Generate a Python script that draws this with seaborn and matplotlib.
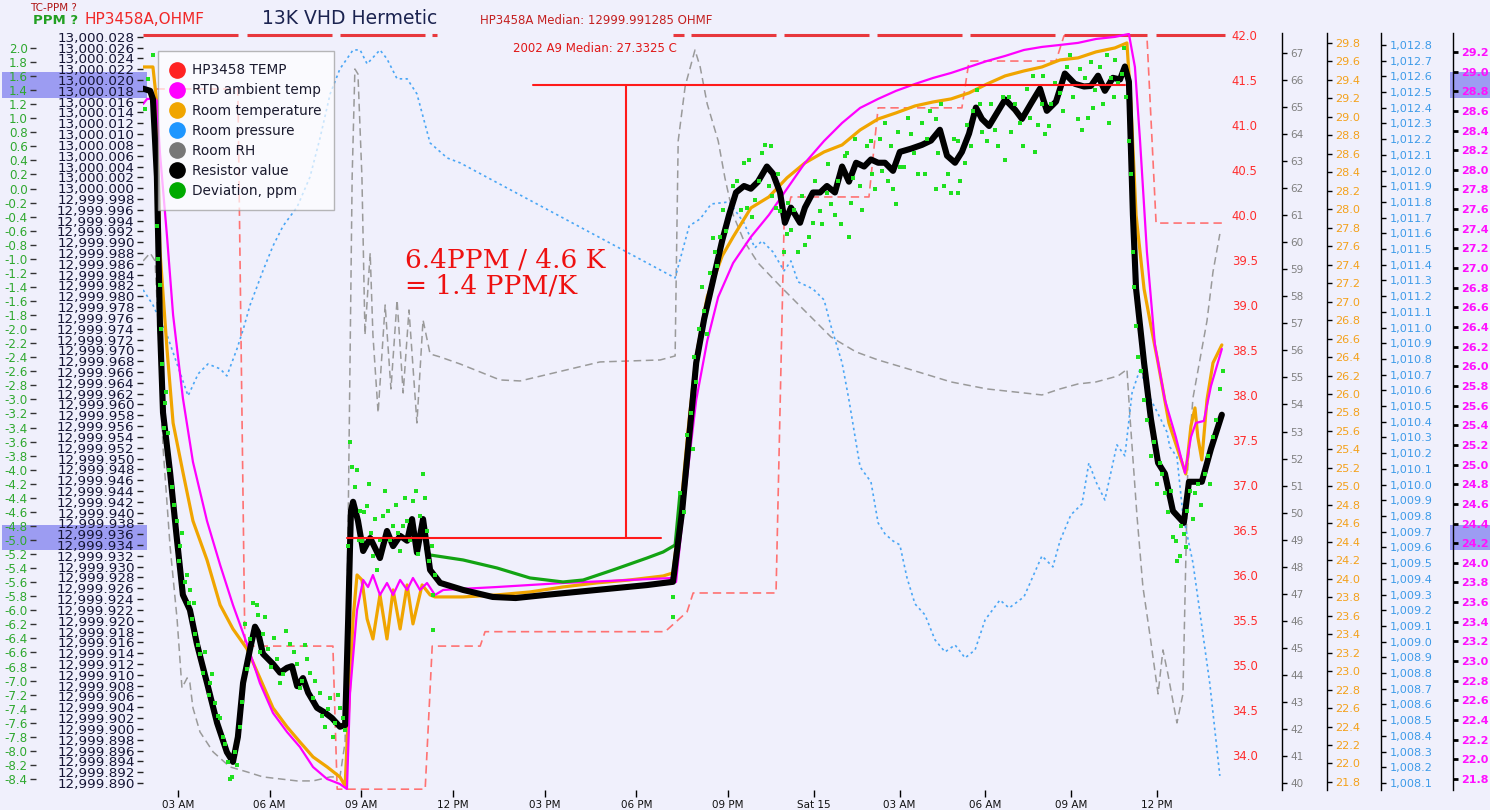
import numpy as np
import seaborn as sns
import matplotlib.pyplot as plt
from matplotlib.lines import Line2D
from matplotlib.patches import Rectangle
from matplotlib.ticker import FuncFormatter

BG = "#f0f0fc"
sns.set_style("white", {"axes.facecolor": BG, "figure.facecolor": BG})
plt.rcParams["font.family"] = ["DejaVu Sans"]

# ---------------- data (time = hours since Fri 00:00) ----------------
# Resistor value, ohm
res_t = [1.86, 2.09, 2.18, 2.31, 2.41, 2.51, 2.74, 2.97, 3.16, 3.39,
         3.62, 3.95, 4.28, 4.60, 4.80, 4.96, 5.13, 5.36, 5.52, 5.62,
         5.78, 6.11, 6.34, 6.57, 6.73, 6.90, 7.09, 7.26, 7.55, 7.81,
         8.04, 8.30, 8.47, 8.57, 8.66, 8.73, 8.89, 9.06, 9.29, 9.61,
         9.84, 10.04, 10.27, 10.50, 10.66, 10.82, 11.02, 11.25, 11.58, 12.33,
         13.30, 14.05, 15.07, 16.71, 18.35, 19.20, 19.50, 19.73, 19.96, 20.22,
         20.58, 20.81, 21.04, 21.28, 21.56, 21.80, 22.05, 22.36, 22.57, 22.82,
         22.99, 23.20, 23.52, 23.69, 23.97, 24.22, 24.46, 24.74, 24.99, 25.23,
         25.48, 25.76, 26.00, 26.25, 26.49, 26.77, 27.01, 27.40, 27.78, 28.10,
         28.41, 28.66, 28.94, 29.18, 29.43, 29.67, 29.88, 30.13, 30.37, 30.69,
         31.04, 31.28, 31.59, 31.91, 32.15, 32.47, 32.78, 33.13, 33.45, 33.69,
         33.94, 34.18, 34.46, 34.71, 34.88, 35.02, 35.16, 35.27, 35.55, 35.79,
         36.04, 36.28, 36.56, 36.94, 37.12, 37.57, 37.89, 38.27]
res_ohm = [13000.0184, 13000.0180, 13000.0165, 13000.0021, 12999.9747,
           12999.9585, 12999.9475, 12999.9348, 12999.9248, 12999.9220,
           12999.9157, 12999.9085, 12999.9011, 12999.8957, 12999.8939,
           12999.8985, 12999.9085, 12999.9148, 12999.9189, 12999.9179,
           12999.9139, 12999.9120, 12999.9104, 12999.9113, 12999.9116,
           12999.9079, 12999.9094, 12999.9067, 12999.9039, 12999.9030,
           12999.9020, 12999.9004, 12999.9007, 12999.9203, 12999.9403,
           12999.9420, 12999.9385, 12999.9329, 12999.9353, 12999.9316,
           12999.9366, 12999.9338, 12999.9357, 12999.9348, 12999.9388,
           12999.9326, 12999.9388, 12999.9294, 12999.9270, 12999.9257,
           12999.9244, 12999.9242, 12999.9248, 12999.9257, 12999.9266,
           12999.9272, 12999.9403, 12999.9540, 12999.9677, 12999.9758,
           12999.9847, 12999.9903, 12999.9951, 12999.9992, 13000.0004,
           12999.9999, 13000.0012, 13000.0040, 13000.0027, 12999.9992,
           12999.9936, 12999.9964, 12999.9936, 12999.9964, 12999.9992,
           12999.9992, 13000.0004, 12999.9992, 13000.0040, 13000.0012,
           13000.0047, 13000.0040, 13000.0053, 13000.0047, 13000.0047,
           13000.0032, 13000.0067, 13000.0073, 13000.0080, 13000.0088,
           13000.0108, 13000.0060, 13000.0047, 13000.0067, 13000.0101,
           13000.0149, 13000.0128, 13000.0115, 13000.0136, 13000.0164,
           13000.0145, 13000.0128, 13000.0156, 13000.0184, 13000.0143,
           13000.0160, 13000.0212, 13000.0193, 13000.0188, 13000.0189,
           13000.0208, 13000.0180, 13000.0204, 13000.0201, 13000.0225,
           13000.0197, 12999.9951, 12999.9814, 12999.9677, 12999.9573,
           12999.9492, 12999.9472, 12999.9403, 12999.9381, 12999.9457,
           12999.9457, 12999.9518, 12999.9581]

# Room temperature, C
room_t = [1.86, 2.18, 2.31, 2.41, 2.64, 2.84, 3.16, 3.49, 3.95, 4.38,
          4.80, 5.26, 5.68, 6.11, 6.57, 6.99, 7.42, 7.88, 8.30, 8.47,
          8.57, 8.73, 8.86, 9.02, 9.19, 9.38, 9.61, 9.84, 10.04, 10.27,
          10.50, 10.69, 10.99, 11.25, 11.41, 12.33, 13.44, 14.52, 15.60, 16.71,
          17.79, 18.88, 19.20, 19.50, 19.73, 19.96, 20.32, 20.81, 21.18, 21.80,
          22.43, 23.06, 23.69, 24.36, 24.99, 25.62, 26.25, 26.87, 27.54, 28.17,
          28.80, 29.43, 30.06, 30.69, 31.35, 31.98, 32.61, 33.24, 33.87, 34.53,
          34.95, 35.09, 35.27, 35.55, 35.79, 36.04, 36.42, 36.80, 37.01, 37.19,
          37.33, 37.43, 37.57, 37.75, 37.96, 38.27]
room_c = [29.540, 29.540, 29.140, 27.548, 26.488, 25.686, 25.156, 24.626, 24.203, 23.716,
          23.456, 23.240, 22.926, 22.601, 22.396, 22.233, 22.071, 21.963, 21.854, 21.757,
          22.493, 23.565, 24.041, 23.987, 23.565, 23.348, 23.825, 23.348, 23.879, 23.456,
          23.933, 23.511, 23.933, 23.825, 23.803, 23.803, 23.825, 23.857, 23.911, 23.955,
          23.987, 24.030, 24.063, 24.929, 25.730, 26.412, 27.051, 27.494, 27.700, 28.014,
          28.133, 28.339, 28.501, 28.620, 28.696, 28.858, 28.977, 29.042, 29.118, 29.161,
          29.194, 29.259, 29.356, 29.443, 29.497, 29.540, 29.616, 29.638, 29.703, 29.746,
          29.800, 29.140, 27.938, 27.137, 26.737, 26.336, 25.686, 25.329, 25.134, 25.654,
          25.849, 25.535, 25.286, 25.936, 26.336, 26.531]

# RTD ambient temp, C
rtd_t = [1.86, 1.99, 2.25, 2.31, 2.41, 2.64, 2.84, 3.16, 3.49, 3.95,
         4.38, 4.80, 5.26, 5.68, 6.11, 6.57, 6.99, 7.42, 7.88, 8.30,
         8.53, 8.63, 8.86, 9.06, 9.22, 9.38, 9.61, 9.84, 10.04, 10.27,
         10.50, 10.69, 10.92, 11.15, 11.41, 11.68, 12.23, 13.44, 15.60, 17.79,
         19.20, 19.30, 19.60, 19.96, 20.32, 20.68, 21.18, 21.80, 22.43, 23.06,
         23.69, 24.36, 24.99, 25.62, 26.25, 26.87, 27.54, 28.17, 28.80, 29.43,
         30.06, 30.69, 31.35, 31.98, 32.61, 33.24, 33.87, 34.53, 35.02, 35.23,
         35.41, 35.65, 35.93, 36.28, 36.66, 36.98, 37.19, 37.36, 37.64, 37.89,
         38.27]
rtd_c = [28.671, 28.722, 28.722, 28.701, 28.172, 27.327, 26.523, 25.678, 25.027, 24.426,
         23.978, 23.571, 23.174, 22.777, 22.472, 22.278, 22.126, 21.922, 21.800, 21.749,
         21.698, 22.675, 23.520, 23.826, 23.754, 23.876, 23.673, 23.795, 23.673, 23.826,
         23.724, 23.846, 23.724, 23.795, 23.673, 23.724, 23.734, 23.754, 23.795, 23.826,
         23.846, 23.805, 24.711, 25.658, 26.258, 26.706, 27.052, 27.317, 27.541, 27.806,
         28.070, 28.294, 28.477, 28.630, 28.722, 28.803, 28.874, 28.935, 28.986, 29.047,
         29.108, 29.159, 29.220, 29.251, 29.271, 29.292, 29.332, 29.353, 29.383, 29.047,
         28.294, 27.164, 26.218, 25.658, 25.281, 24.915, 25.281, 25.424, 25.444, 25.800,
         26.177]

# Room pressure, hPa
pres_t = [1.86, 2.18, 2.64, 2.97, 3.33, 3.66, 3.98, 4.38, 4.60, 4.93,
          5.13, 5.36, 5.78, 6.11, 6.44, 6.90, 7.32, 7.65, 7.98, 8.30,
          8.73, 8.96, 9.19, 9.61, 9.84, 10.17, 10.50, 10.82, 11.25, 11.81,
          12.23, 19.27, 19.50, 19.73, 20.09, 20.45, 21.04, 21.56, 21.94, 22.19,
          22.57, 22.96, 23.20, 23.45, 23.97, 24.36, 24.60, 24.99, 25.23, 25.62,
          26.00, 26.25, 26.49, 26.77, 27.01, 27.26, 27.54, 27.89, 28.24, 28.59,
          28.94, 29.29, 29.64, 29.99, 30.51, 30.83, 31.35, 31.98, 32.36, 32.61,
          32.99, 33.38, 33.62, 33.87, 34.18, 34.60, 34.88, 35.13, 35.41, 35.76,
          36.11, 36.35, 36.45, 36.70, 36.91, 37.26, 37.50, 37.85, 38.20]
pres_hpa = [1011.240, 1011.144, 1010.953, 1010.768, 1010.565, 1010.705, 1010.768, 1010.737, 1010.692, 1010.864,
            1010.985, 1011.144, 1011.361, 1011.520, 1011.647, 1011.768, 1011.959, 1012.208, 1012.488, 1012.647,
            1012.768, 1012.768, 1012.679, 1012.768, 1012.711, 1012.584, 1012.584, 1012.488, 1012.176, 1012.080,
            1012.049, 1011.316, 1011.482, 1011.647, 1011.692, 1011.787, 1011.800, 1011.666, 1011.507, 1011.552,
            1011.482, 1011.361, 1011.424, 1011.291, 1011.246, 1011.176, 1011.010, 1010.775, 1010.539, 1010.112,
            1010.017, 1009.756, 1009.686, 1009.641, 1009.616, 1009.406, 1009.240, 1009.170, 1009.011, 1008.934,
            1008.979, 1008.896, 1008.947, 1009.138, 1009.265, 1009.214, 1009.285, 1009.546, 1009.476, 1009.641,
            1009.807, 1009.877, 1010.138, 1010.017, 1009.902, 1010.253, 1010.183, 1010.584, 1010.737, 1010.552,
            1010.425, 1010.335, 1010.240, 1010.176, 1009.807, 1009.501, 1009.189, 1008.731, 1008.145]

# Room RH, %
rh_t = [1.86, 2.09, 2.25, 2.35, 2.51, 2.74, 2.97, 3.13, 3.30, 3.39,
        3.49, 3.72, 4.15, 4.70, 5.26, 5.78, 6.34, 6.90, 7.42, 7.98,
        8.30, 8.47, 8.57, 8.70, 8.79, 8.89, 9.02, 9.12, 9.29, 9.38,
        9.55, 9.78, 9.97, 10.17, 10.37, 10.56, 10.82, 11.02, 11.25, 11.58,
        12.23, 13.54, 14.20, 16.81, 18.78, 19.27, 19.30, 19.37, 19.60, 19.92,
        20.09, 20.32, 20.68, 20.90, 21.18, 21.56, 22.05, 22.82, 23.69, 24.60,
        25.48, 26.25, 27.54, 28.80, 30.06, 31.35, 31.98, 32.61, 33.24, 33.87,
        34.64, 34.88, 34.95, 35.06, 35.30, 35.51, 35.76, 36.04, 36.21, 36.39,
        36.70, 36.91, 37.08, 37.26, 37.75, 37.96, 38.20]
rh_pct = [59.308, 59.604, 59.308, 56.941, 52.429, 48.768, 46.068, 43.516, 43.886, 43.701,
          42.777, 41.889, 41.149, 40.595, 40.410, 40.225, 40.151, 40.077, 40.077, 40.225,
          40.225, 41.519, 49.692, 62.414, 66.408, 66.223, 62.414, 56.571, 59.604, 56.571,
          53.686, 57.680, 54.574, 57.865, 54.426, 57.496, 53.317, 57.126, 55.868, 55.757,
          55.499, 54.907, 54.870, 55.573, 55.646, 55.794, 58.272, 63.746, 65.780, 67.111,
          66.482, 65.114, 63.746, 62.377, 61.009, 60.047, 59.234, 58.383, 57.459, 56.497,
          55.942, 55.646, 55.240, 54.833, 54.574, 54.426, 54.352, 54.574, 54.759, 54.833,
          55.055, 55.240, 55.314, 53.502, 49.914, 47.252, 45.439, 43.295, 44.922, 43.997,
          42.222, 43.295, 51.726, 54.241, 57.089, 58.901, 60.306]

# HP3458 TEMP, C (step trace)
hp_t = [1.86, 4.96, 5.19, 8.07, 8.21, 11.09, 11.32, 12.89, 13.05, 18.94, 19.66, 19.86,
        22.68, 22.96, 23.20, 25.93, 26.25, 29.18, 29.43, 32.47, 32.75, 35.65, 35.97, 38.38]
hp_c = [41.40, 41.40, 35.21, 35.21, 33.62, 33.62, 35.21, 35.21, 35.37, 35.37, 35.59, 35.80,
        35.80, 39.88, 40.20, 40.20, 41.19, 41.19, 41.71, 41.71, 41.99, 41.99, 39.91, 39.91]
# HP3458 TEMP clipped at 42.0 (segments)
top_t = [1.86, 4.96, np.nan, 5.26, 8.04, np.nan, 8.30, 11.09, np.nan, 11.32, 11.48, np.nan,
         19.20, 19.56, np.nan, 19.79, 22.68, np.nan, 22.96, 25.93, np.nan, 26.21, 29.18, np.nan,
         29.46, 32.43, np.nan, 32.75, 35.65, np.nan, 35.97, 38.38]
top_c = [42.0, 42.0, np.nan, 42.0, 42.0, np.nan, 42.0, 42.0, np.nan, 42.0, 42.0, np.nan,
         42.0, 42.0, np.nan, 42.0, 42.0, np.nan, 42.0, 42.0, np.nan, 42.0, 42.0, np.nan,
         42.0, 42.0, np.nan, 42.0, 42.0, np.nan, 42.0, 42.0]

# Deviation, ppm (averaged line, visible part)
dev_t = [11.10, 11.25, 12.33, 13.44, 14.52, 15.60, 16.26, 17.24, 18.35, 18.88, 19.27, 19.43]
dev_ppm = [-5.12, -5.213, -5.284, -5.398, -5.540, -5.597, -5.569, -5.426, -5.256, -5.170, -5.071, -4.331]

# Deviation, ppm (raw readings)
dots_t = [2.18, 2.02, 1.92, 2.31, 2.41, 2.48, 2.58, 2.67, 2.80, 2.97,
          3.07, 3.30, 3.39, 3.46, 3.56, 3.72, 3.82, 4.05, 4.21, 4.38,
          4.47, 4.64, 4.77, 4.87, 5.03, 5.26, 5.36, 5.59, 5.62, 5.78,
          5.95, 6.24, 6.34, 6.67, 6.90, 6.99, 7.22, 7.32, 7.42, 7.65,
          7.81, 7.98, 8.07, 8.30, 8.40, 8.57, 8.70, 8.79, 8.96, 9.02,
          9.19, 9.38, 9.51, 9.71, 9.87, 10.04, 10.27, 10.37, 10.50, 10.69,
          10.92, 11.02, 11.15, 11.32, 11.35, 11.35, 19.20, 19.20, 19.43, 19.86,
          19.96, 20.22, 20.32, 20.58, 20.74, 21.18, 21.56, 21.66, 21.94, 22.29,
          22.43, 22.68, 22.82, 23.06, 23.20, 23.45, 23.83, 23.97, 24.22, 24.46,
          24.60, 24.74, 25.09, 25.23, 25.37, 25.62, 26.00, 26.14, 26.39, 26.49,
          26.77, 26.87, 27.01, 27.40, 27.78, 27.89, 28.27, 28.27, 28.55, 28.80,
          29.04, 29.04, 29.29, 29.57, 29.81, 30.06, 30.34, 30.69, 30.83, 31.21,
          31.46, 31.73, 31.98, 32.08, 32.22, 32.61, 32.85, 33.24, 33.38, 33.48,
          33.76, 34.01, 34.32, 34.39, 34.53, 34.78, 35.02, 35.16, 35.27, 35.55,
          35.79, 36.18, 36.28, 36.56, 36.66, 36.80, 36.94, 37.05, 37.33, 37.68,
          37.96, 38.20,
          2.35, 2.45, 2.55, 2.62, 2.72, 2.88, 3.02, 3.12, 3.22, 3.35,
          3.52, 3.66, 3.88, 4.00, 4.12, 4.30, 4.55, 4.70, 4.92, 5.10,
          5.20, 5.45, 5.70, 5.85, 6.05, 6.15, 6.45, 6.55, 6.80, 7.05,
          7.15, 7.50, 7.70, 7.90, 8.15, 8.25, 8.45,
          8.62, 8.85, 8.92, 9.10, 9.25, 9.33, 9.45, 9.60, 9.78, 9.95,
          10.12, 10.20, 10.42, 10.60, 10.78, 10.85, 11.08, 11.20, 11.40,
          19.55, 19.65, 19.78, 19.90, 20.05, 20.15, 20.40, 20.50, 20.65, 20.85, 20.95,
          21.30, 21.45, 21.75, 21.85, 22.10, 22.20, 22.50, 22.55, 22.75, 22.95,
          23.10, 23.30, 23.60, 23.70, 24.05, 24.30, 24.50, 24.85, 24.95, 25.15,
          25.30, 25.45, 25.70, 25.85, 26.05, 26.30, 26.60, 26.70, 26.95, 27.15,
          27.30, 27.50, 27.65, 27.95, 28.05, 28.35, 28.45, 28.70, 28.90, 29.10,
          29.35, 29.50, 29.70, 29.90, 30.20, 30.45, 30.60, 30.90, 31.05, 31.30,
          31.55, 31.65, 31.85, 32.00, 32.30, 32.45, 32.70, 32.95, 33.05, 33.30,
          33.60, 33.70, 33.85, 34.10, 34.25, 34.50, 34.65, 34.85, 34.92,
          35.10, 35.20, 35.35, 35.45, 35.65, 35.90, 36.00, 36.10, 36.40, 36.50,
          36.70, 36.85, 37.00, 37.15, 37.25, 37.45, 37.55, 37.80, 37.85, 38.05, 38.30]
dots_ppm = [1.900, 1.559, 1.132, -0.532, -1.372, -2.496, -3.050, -3.477, -4.246, -4.729,
            -5.085, -5.498, -5.711, -6.124, -6.337, -6.621, -6.892, -7.034, -7.319, -7.532,
            -7.802, -8.158, -8.371, -8.016, -7.660, -6.835, -6.408, -5.924, -6.067, -6.337,
            -6.550, -6.693, -7.034, -6.479, -6.764, -7.105, -6.693, -6.892, -7.247, -7.176,
            -7.660, -7.247, -7.802, -7.390, -7.532, -5.085, -3.961, -4.246, -4.587, -5.014,
            -4.516, -5.227, -5.426, -4.658, -4.587, -4.800, -5.156, -4.800, -4.729, -4.445,
            -4.658, -4.061, -4.872, -5.085, -5.782, -6.280, -5.811, -6.095, -4.331, -3.705,
            -2.752, -1.742, -2.069, -0.902, -0.689, 0.037, 0.364, -0.276, -0.162, 0.620,
            0.037, -0.276, -0.319, -0.646, -0.589, -0.902, -0.689, -0.490, -0.319, -0.063,
            -0.219, -0.376, 0.464, -0.689, 0.151, 0.037, 0.677, -0.006, 0.250, 0.933,
            -0.006, -0.219, 0.307, 0.777, 0.933, 0.208, 0.990, -0.006, 0.037, -0.063,
            0.677, -0.063, 0.364, 1.104, 1.203, 0.677, 0.833, 0.407, 1.303, 0.933,
            1.417, 0.520, 1.203, 0.777, 0.890, 1.360, 1.730, 0.990, 0.833, 1.573,
            1.146, 1.730, 0.933, 1.573, 1.829, 1.630, 0.677, -0.902, -1.955, -3.008,
            -3.805, -4.061, -4.331, -4.957, -5.014, -5.227, -4.914, -4.587, -4.331, -4.061,
            -3.534, -2.851,
            -1.0, -2.0, -3.4, -2.9, -4.0, -4.5, -5.3, -4.9, -5.6, -5.9,
            -5.9, -6.5, -6.6, -7.2, -6.9, -7.5, -7.9, -8.4, -8.2, -7.3,
            -6.2, -5.9, -6.6, -6.1, -6.8, -6.4, -6.9, -6.3, -6.6, -7.0,
            -6.5, -7.0, -7.5, -7.4, -7.6, -7.2, -7.7,
            -3.6, -4.0, -5.0, -4.6, -4.2, -4.9, -4.7, -5.0, -4.3, -5.0,
            -4.5, -4.9, -4.4, -5.0, -4.3, -5.2, -4.4, -5.3, -5.5,
            -4.6, -3.5, -3.2, -2.4, -2.0, -1.4, -1.2, -0.7, -1.1, -0.3, -0.6,
            0.1, -0.3, 0.4, -0.4, 0.1, 0.5, 0.6, -0.1, 0.2, -0.9,
            -0.2, -0.3, -0.1, -0.8, 0.1, -0.5, 0.35, 0.1, -0.5, 0.5,
            -0.2, 0.7, -0.3, 0.6, 0.2, 0.7, 0.1, 0.6, 0.8, 0.3,
            1.0, 0.5, 0.2, 0.7, 1.1, 0.5, 1.2, 0.2, 0.7, 0.1,
            0.9, 0.6, 1.4, 0.8, 1.2, 0.6, 1.3, 0.8, 1.2, 0.6,
            1.0, 1.6, 0.9, 1.6, 1.2, 1.5, 1.1, 1.9, 1.3, 1.7,
            1.0, 1.8, 1.4, 1.2, 1.9, 1.3, 1.5, 2.0, 1.3,
            0.2, -1.4, -2.4, -2.6, -3.3, -3.6, -4.2, -3.9, -4.6, -4.3,
            -5.3, -4.8, -5.1, -4.3, -4.7, -4.2, -4.5, -3.8, -4.2, -3.3, -2.6]

# x axis ticks
tick_hours = [3, 6, 9, 12, 15, 18, 21, 24, 27, 30, 33, 36]
tick_names = ["03 AM", "06 AM", "09 AM", "12 PM", "03 PM", "06 PM", "09 PM",
              "Sat 15", "03 AM", "06 AM", "09 AM", "12 PM"]

# ---------------- figure ----------------
fig = plt.figure(figsize=(14.9, 8.1), dpi=100)
fig.patch.set_facecolor(BG)

# highlighted label bands
for x0, w in [(0.0013, 0.0973), (0.9732, 0.0268)]:
    for y0, h in [(0.879, 0.0321), (0.321, 0.0309)]:
        fig.add_artist(Rectangle((x0, y0), w, h, transform=fig.transFigure,
                                 facecolor="#9c9cf2", edgecolor="none", zorder=-1))

ax = fig.add_axes([0.09597, 0.02469, 0.72617, 0.93461])
ax_red = ax.twinx()
ax_rh = ax.twinx()
ax_pr = ax.twinx()
ax_or = ax.twinx()
ax_mg = ax.twinx()
ax_ppm = ax.twinx()
ax_dots = ax.twinx()
for i, a in enumerate([ax_red, ax_rh, ax_pr, ax_or, ax_mg, ax_ppm, ax, ax_dots]):
    a.set_zorder(i + 1)
    a.patch.set_visible(False)
    for s in a.spines.values():
        s.set_visible(False)

# series
sns.lineplot(x=hp_t, y=hp_c, ax=ax_red, color="#ff7272", linewidth=1.2,
             linestyle=(0, (5, 3)), sort=False, estimator=None)
ax_red.plot(top_t, top_c, color="#e8383d", linewidth=2.2, solid_capstyle="butt", clip_on=False)
sns.lineplot(x=rh_t, y=rh_pct, ax=ax_rh, color="#9a9a9a", linewidth=1.1,
             linestyle=(0, (5, 3)), sort=False, estimator=None)
sns.lineplot(x=pres_t, y=pres_hpa, ax=ax_pr, color="#4aa6f5", linewidth=1.2,
             linestyle=(0, (1.5, 2)), sort=False, estimator=None)
sns.lineplot(x=room_t, y=room_c, ax=ax_or, color="#f0a500", linewidth=2.3,
             sort=False, estimator=None)
sns.lineplot(x=rtd_t, y=rtd_c, ax=ax_mg, color="#ff00ff", linewidth=1.6,
             sort=False, estimator=None)
sns.lineplot(x=dev_t, y=dev_ppm, ax=ax_ppm, color="#13a313", linewidth=2.3,
             sort=False, estimator=None)
sns.lineplot(x=res_t, y=res_ohm, ax=ax, color="black", linewidth=4.4,
             sort=False, estimator=None, solid_joinstyle="round", solid_capstyle="round")
sns.scatterplot(x=dots_t, y=dots_ppm, ax=ax_dots, color="#1fe01f", s=5,
                linewidth=0, marker="s")

# annotation bracket (ppm units)
hi_ppm, lo_ppm = 1.474, -4.971
ax_dots.plot([14.61, 34.88], [hi_ppm, hi_ppm], color="#ff1a1a", lw=1.5)
ax_dots.plot([8.53, 18.81], [lo_ppm, lo_ppm], color="#ff1a1a", lw=1.5)
ax_dots.plot([17.66, 17.66], [lo_ppm, hi_ppm], color="#ff1a1a", lw=1.5)

# x scale: slightly compressed after 9 PM as in the original
day_h = [-50.0, 21.0, 100.0]
day_u = [-50.0, 21.0, 21.0 + 79.0 * 0.93586]


def fwd(h):
    return np.interp(h, day_h, day_u)


def inv(u):
    return np.interp(u, day_u, day_h)


ax.set_xscale("function", functions=(fwd, inv))
ax.set_xlim(1.855, 38.38)
ax.set_xticks(tick_hours)
ax.set_xticklabels(tick_names)
ax.tick_params(axis="x", bottom=True, length=5, width=1, color="black",
               labelsize=7.5, pad=2, labelcolor="#111111")
ax.set_xlabel("")

# limits
ax.set_ylim(12999.8887, 13000.0287)
ax_ppm.set_ylim(-8.5565, 2.213)
ax_dots.set_ylim(-8.5565, 2.213)
ax_red.set_ylim(33.611, 42.022)
ax_rh.set_ylim(39.741, 67.740)
ax_or.set_ylim(21.713, 29.908)
ax_pr.set_ylim(1008.055, 1012.876)
ax_mg.set_ylim(21.688, 29.393)
for a in [ax, ax_red, ax_rh, ax_pr, ax_or, ax_mg, ax_ppm, ax_dots]:
    a.set_ylabel("")

# main ohm axis (left)
ax.set_yticks(np.round(np.arange(12999.890, 13000.0285, 0.002), 3))
ax.yaxis.set_major_formatter(FuncFormatter(lambda v, p: f"{v:,.3f}"))
ax.tick_params(axis="y", left=True, right=False, length=4, width=1, color="#222222",
               labelsize=9.7, labelcolor="#151535", pad=2)

# ppm axis (far left)
ax_ppm.yaxis.tick_left()
ax_ppm.spines["left"].set_position(("outward", 77))
ax_ppm.set_yticks(np.round(np.arange(-8.4, 2.01, 0.2), 1))
ax_ppm.yaxis.set_major_formatter(FuncFormatter(lambda v, p: f"{(0.0 if abs(v) < 1e-9 else v):.1f}"))
ax_ppm.tick_params(axis="y", left=True, right=False, length=4, width=1, color="#333333",
                   labelsize=8.6, labelcolor="#2fa82f", pad=2)
ax_dots.yaxis.set_visible(False)

# right-hand axes
ax_red.set_yticks(np.round(np.arange(34.0, 42.01, 0.5), 1))
ax_red.yaxis.set_major_formatter(FuncFormatter(lambda v, p: f"{v:.1f}"))
ax_red.tick_params(axis="y", right=True, left=False, length=0, pad=5,
                   labelsize=8.4, labelcolor="#ff2d2d")


def side_axis(a, offset, ticks, fmt, color, size, tick_w=1.0, bold=False):
    a.spines["right"].set_visible(True)
    a.spines["right"].set_position(("outward", offset))
    a.spines["right"].set_color("black")
    a.spines["right"].set_linewidth(1.0)
    a.set_yticks(ticks)
    a.yaxis.set_major_formatter(FuncFormatter(lambda v, p: fmt.format(v)))
    a.tick_params(axis="y", right=True, left=False, length=3.5, width=tick_w,
                  color="black", pad=2.5, labelsize=size, labelcolor=color)
    if bold:
        plt.setp(a.get_yticklabels(), fontweight="bold")


side_axis(ax_rh, 41, np.arange(40, 68, 1), "{:.0f}", "#808080", 7.5)
side_axis(ax_or, 73.4, np.round(np.arange(21.8, 29.81, 0.2), 1), "{:.1f}", "#f4a11a", 8.1)
side_axis(ax_pr, 112.3, np.round(np.arange(1008.1, 1012.81, 0.1), 1), "{:,.1f}", "#3d9be9", 8.1)
side_axis(ax_mg, 164.2, np.round(np.arange(21.8, 29.21, 0.2), 1), "{:.1f}", "#ff10ff", 8.0,
          tick_w=2.0, bold=True)

# legend
names = ["HP3458 TEMP", "RTD ambient temp", "Room temperature", "Room pressure",
         "Room RH", "Resistor value", "Deviation, ppm"]
colors = ["#ff2222", "#ff00ff", "#f0a500", "#1e96ff", "#777777", "#000000", "#00aa00"]
handles = [Line2D([0], [0], marker="o", linestyle="none", markersize=11,
                  markerfacecolor=c, markeredgecolor=c) for c in colors]
leg = ax_dots.legend(handles, names, loc="upper left", bbox_to_anchor=(0.106, 0.937),
                     bbox_transform=fig.transFigure, frameon=True, fancybox=False,
                     edgecolor="#9a9a9a", facecolor="white", framealpha=0.7,
                     fontsize=9.8, handletextpad=0.6, labelspacing=0.45,
                     borderpad=0.9, handlelength=1.0, borderaxespad=0)
leg.get_frame().set_linewidth(1.0)
for t in leg.get_texts():
    t.set_color("#1a1a2e")

# titles and notes
fig.text(30 / 1490, 1 - 8 / 810, "TC-PPM ?", color="#b01515", fontsize=7.5, va="center")
fig.text(33 / 1490, 1 - 20 / 810, "PPM ?", color="#22a022", fontsize=9.5,
         fontweight="bold", va="center")
fig.text(85 / 1490, 1 - 20 / 810, "HP3458A,OHMF", color="#f02828", fontsize=11, va="center")
fig.text(262 / 1490, 1 - 18 / 810, "13K VHD Hermetic", color="#1b2350", fontsize=13.5, va="center")
fig.text(480 / 1490, 1 - 21 / 810, "HP3458A Median: 12999.991285 OHMF", color="#c42020",
         fontsize=8.5, va="center")
fig.text(513 / 1490, 1 - 49 / 810, "2002 A9 Median: 27.3325 C", color="#e01818",
         fontsize=8.5, va="center")
fig.text(405 / 1490, 1 - 247 / 810, "6.4PPM / 4.6 K\n= 1.4 PPM/K", color="#ee1111",
         fontsize=19, family="DejaVu Serif", va="top", linespacing=1.1)

fig.savefig("out.png", dpi=100, facecolor=BG)
